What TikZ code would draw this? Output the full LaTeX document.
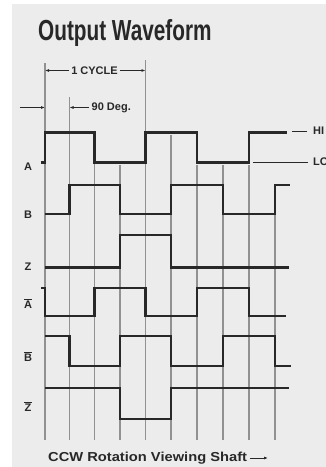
\documentclass[tikz,border=0pt]{standalone}
\usepackage{fontspec}
\setmainfont{Liberation Sans}
\usetikzlibrary{arrows.meta}
\definecolor{wavecol}{RGB}{40,40,40}
\definecolor{gridcol}{RGB}{145,145,145}
\definecolor{bgcol}{RGB}{236,236,236}
\begin{document}
\begin{tikzpicture}[x=1pt,y=-1pt,
  wave/.style={draw=wavecol,line width=2.1pt,line join=miter},
  gridline/.style={draw=gridcol,line width=1.1pt},
  lbl/.style={font=\fontsize{11}{11}\selectfont\bfseries,text=wavecol,inner sep=0pt},
  dimarrow/.style={draw=wavecol,line width=0.9pt,-{Latex[length=4pt,width=3pt]}},
  thinline/.style={draw=wavecol,line width=1pt},
  barline/.style={draw=wavecol,line width=1pt}]
\useasboundingbox (0,0) rectangle (326,467);
\fill[white] (0,0) rectangle (326,467);
\fill[bgcol] (12,4) rectangle (326,467);

% title
\node[anchor=base west,inner sep=0pt,text=wavecol,font=\fontsize{29}{29}\selectfont\bfseries] (title) at (38,40) {\scalebox{0.716}[1]{Output Waveform}};

% grid lines
\foreach \gx/\gy in {45/63,69.5/97,94.5/162,120/165,145.5/60,171/135,197/165,223/165,249/165,275/185}
  \draw[gridline] (\gx,\gy) -- (\gx,440);

% dimension marks
\node[lbl] (cyc) at (94.5,70.5) {1 CYCLE};
\coordinate (cycL) at (45,70.5);
\coordinate (cycR) at (145.5,70.5);
\draw[dimarrow] ([xshift=-2pt]cyc.west) -- (cycL);
\draw[dimarrow] ([xshift=2pt]cyc.east) -- (cycR);

\node[lbl,anchor=west] (deg) at (91.5,107.5) {90 Deg.};
\coordinate (degL) at (69.5,107.5);
\draw[dimarrow] ([xshift=-3pt]deg.west) -- (degL);
\coordinate (inS) at (20,107.5);
\coordinate (inE) at (45,107.5);
\draw[dimarrow] (inS) -- (inE);

% waveforms
\draw[wave] (41,162.5)--(45,162.5)--(45,132.5)--(94.5,132.5)--(94.5,162.5)--(145.5,162.5)--(145.5,132.5)--(197,132.5)--(197,162.5)--(249,162.5)--(249,132.5)--(287,132.5);
\draw[wave] (45,214)--(69.5,214)--(69.5,185)--(120,185)--(120,214)--(171,214)--(171,185)--(223,185)--(223,214)--(275,214)--(275,185)--(290,185);
\draw[wave,line width=2.5pt] (45,267.5)--(120,267.5)--(120,235)--(171,235)--(171,267.5)--(289,267.5);
\draw[wave] (41,288)--(45,288)--(45,316)--(94.5,316)--(94.5,288)--(145.5,288)--(145.5,316)--(197,316)--(197,288)--(249,288)--(249,316)--(286,316);
\draw[wave] (45,336)--(69.5,336)--(69.5,366)--(120,366)--(120,336)--(171,336)--(171,366)--(223,366)--(223,336)--(275,336)--(275,366)--(290.5,366);
\draw[wave] (45,388)--(120,388)--(120,419)--(171,419)--(171,388)--(289,388);

% HI / LO
\coordinate (hiS) at (292,131);
\coordinate (hiE) at (307,131);
\draw[thinline] (hiS) -- (hiE);
\node[lbl,anchor=west] (hi) at (313,131) {HI};
\coordinate (loS) at (253,162);
\coordinate (loE) at (308,162);
\draw[thinline] (loS) -- (loE);
\node[lbl,anchor=west] (lo) at (313,162) {LO};

% signal labels
\node[lbl] (la) at (28,167) {A};
\node[lbl] (lb) at (28,215) {B};
\node[lbl] (lz) at (28,267) {Z};
\node[lbl] (lab) at (28,305) {A};
\node[lbl] (lbb) at (28,358) {B};
\node[lbl] (lzb) at (28,408) {Z};
\foreach \n in {lab,lbb,lzb}
  \draw[barline] ([yshift=2pt]\n.north west) -- ([yshift=2pt]\n.north east);

% bottom caption
\node[lbl,anchor=west,font=\fontsize{13}{13}\selectfont\bfseries] (ccw) at (48,458) {\scalebox{1.13}[1]{CCW Rotation Viewing Shaft}};
\coordinate (ccwE) at (268,458);
\draw[dimarrow] ([xshift=3pt]ccw.east) -- (ccwE);
\end{tikzpicture}
\end{document}
